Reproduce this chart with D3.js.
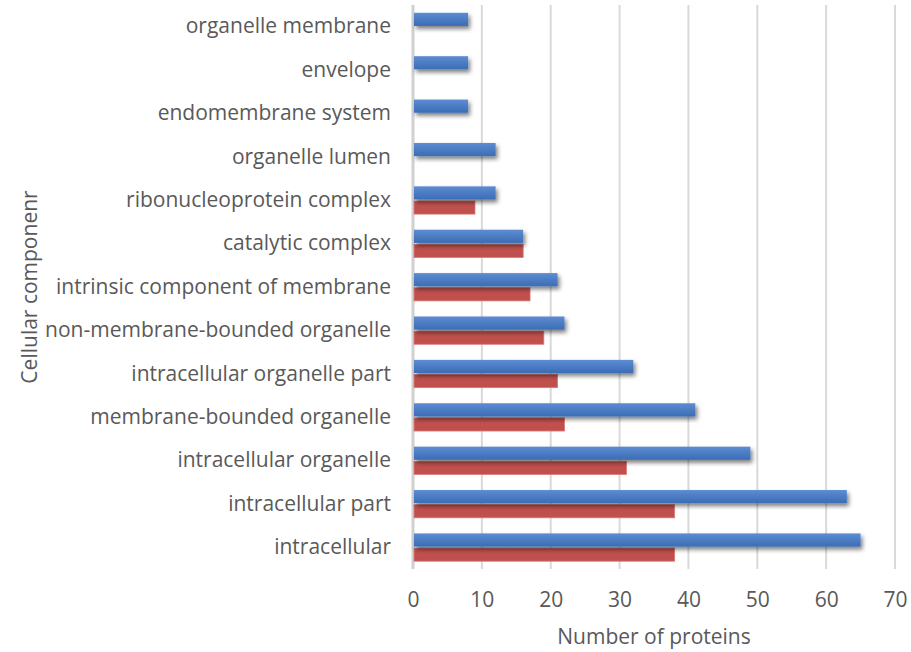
<!DOCTYPE html>
<html>
<head>
<meta charset="utf-8">
<script src="https://cdnjs.cloudflare.com/ajax/libs/d3/7.8.5/d3.min.js"></script>
<style>
    body { margin: 0; background: #fff; }
    .chart { width: 911px; height: 652px; }
    text { font-family: "Open Sans", "DejaVu Sans", sans-serif; fill: #595959; }
</style>
</head>
<body>
<div class="chart"></div>
<script>
(function () {
    'use strict';

    /* data, top to bottom as drawn */
    const categories = [
        'organelle membrane', 'envelope', 'endomembrane system', 'organelle lumen',
        'ribonucleoprotein complex', 'catalytic complex', 'intrinsic component of membrane',
        'non-membrane-bounded organelle', 'intracellular organelle part', 'membrane-bounded organelle',
        'intracellular organelle', 'intracellular part', 'intracellular'
    ];
    const blueValues = [8, 8, 8, 12, 12, 16, 21, 22, 32, 41, 49, 63, 65];
    const redValues = [0, 0, 0, 0, 9, 16, 17, 19, 21, 22, 31, 38, 38];
    const seriesNames = ['blue', 'red'];
    const xTicks = [0, 10, 20, 30, 40, 50, 60, 70];

    const margin = { top: 5, left: 413, right: 16, bottom: 83 };
    const width = 911 - margin.left - margin.right;
    const height = 652 - margin.top - margin.bottom;

    const svg = d3.select('.chart').append('svg')
        .attr('width', 911)
        .attr('height', 652);

    /* blue gradient + shadow */
    const defs = svg.append('defs');
    const grad = defs.append('linearGradient').attr('id', 'blueGrad')
        .attr('x1', 0).attr('y1', 0).attr('x2', 0).attr('y2', 1);
    grad.append('stop').attr('offset', '0%').attr('stop-color', '#5d8cd2');
    grad.append('stop').attr('offset', '100%').attr('stop-color', '#3a6db5');
    const shadow = defs.append('filter').attr('id', 'shadow')
        .attr('x', '-5%').attr('y', '-30%').attr('width', '120%').attr('height', '180%');
    shadow.append('feDropShadow').attr('dx', 2).attr('dy', 3)
        .attr('stdDeviation', 2.2).attr('flood-color', '#000').attr('flood-opacity', 0.5);

    const plot = svg.append('g')
        .attr('transform', 'translate(' + margin.left + ', ' + margin.top + ')');

    const x = d3.scaleLinear().domain([0, 70]).range([0, width]);
    const y = d3.scaleBand().domain(categories).range([0, height]).paddingInner(0.36).paddingOuter(0.18);
    const ySub = d3.scaleBand().domain(seriesNames).range([0, y.bandwidth()]).paddingInner(0.1);

    /* gridlines */
    plot.selectAll('.grid').data(xTicks.slice(1)).enter().append('line')
        .attr('x1', function (d) { return x(d); })
        .attr('x2', function (d) { return x(d); })
        .attr('y1', 0).attr('y2', height)
        .attr('stroke', '#d9d9d9').attr('stroke-width', 2);

    plot.append('line')
        .attr('x1', 0).attr('x2', 0).attr('y1', 0).attr('y2', height)
        .attr('stroke', '#d0d0d0').attr('stroke-width', 3);

    /* red bars */
    plot.selectAll('.red').data(categories).enter().append('rect')
        .attr('x', x(0) + 1)
        .attr('y', function (d) { return y(d) + ySub('red'); })
        .attr('width', function (d, i) { return Math.max(0, x(redValues[i]) - x(0) - 1); })
        .attr('height', ySub.bandwidth())
        .attr('fill', '#c0504d')
        .attr('stroke', '#d97a77').attr('stroke-width', 0.8);

    /* blue bars */
    plot.selectAll('.blue').data(categories).enter().append('rect')
        .attr('x', x(0) + 1)
        .attr('y', function (d) { return y(d) + ySub('blue'); })
        .attr('width', function (d, i) { return Math.max(0, x(blueValues[i]) - x(0) - 1); })
        .attr('height', ySub.bandwidth())
        .attr('fill', 'url(#blueGrad)')
        .attr('filter', 'url(#shadow)');

    /* x axis */
    const xAxis = plot.append('g')
        .attr('transform', 'translate(0, ' + height + ')')
        .call(d3.axisBottom(x).tickValues(xTicks).tickSize(0).tickPadding(23));
    xAxis.select('.domain').remove();
    xAxis.selectAll('text').style('font-size', '21px').attr('fill', '#595959');

    /* y axis */
    const yAxis = plot.append('g')
        .call(d3.axisLeft(y).tickSize(0).tickPadding(22));
    yAxis.select('.domain').remove();
    yAxis.selectAll('text').style('font-size', '21px').attr('fill', '#595959');

    /* titles */
    svg.append('text').text('Number of proteins')
        .attr('x', margin.left + x(35)).attr('y', 644)
        .attr('text-anchor', 'middle')
        .style('font-size', '21px');

    svg.append('text').text('Cellular componenr')
        .attr('transform', 'translate(37, ' + (margin.top + height / 2) + ') rotate(-90)')
        .attr('text-anchor', 'middle')
        .style('font-size', '21px');
}());
</script>
</body>
</html>
